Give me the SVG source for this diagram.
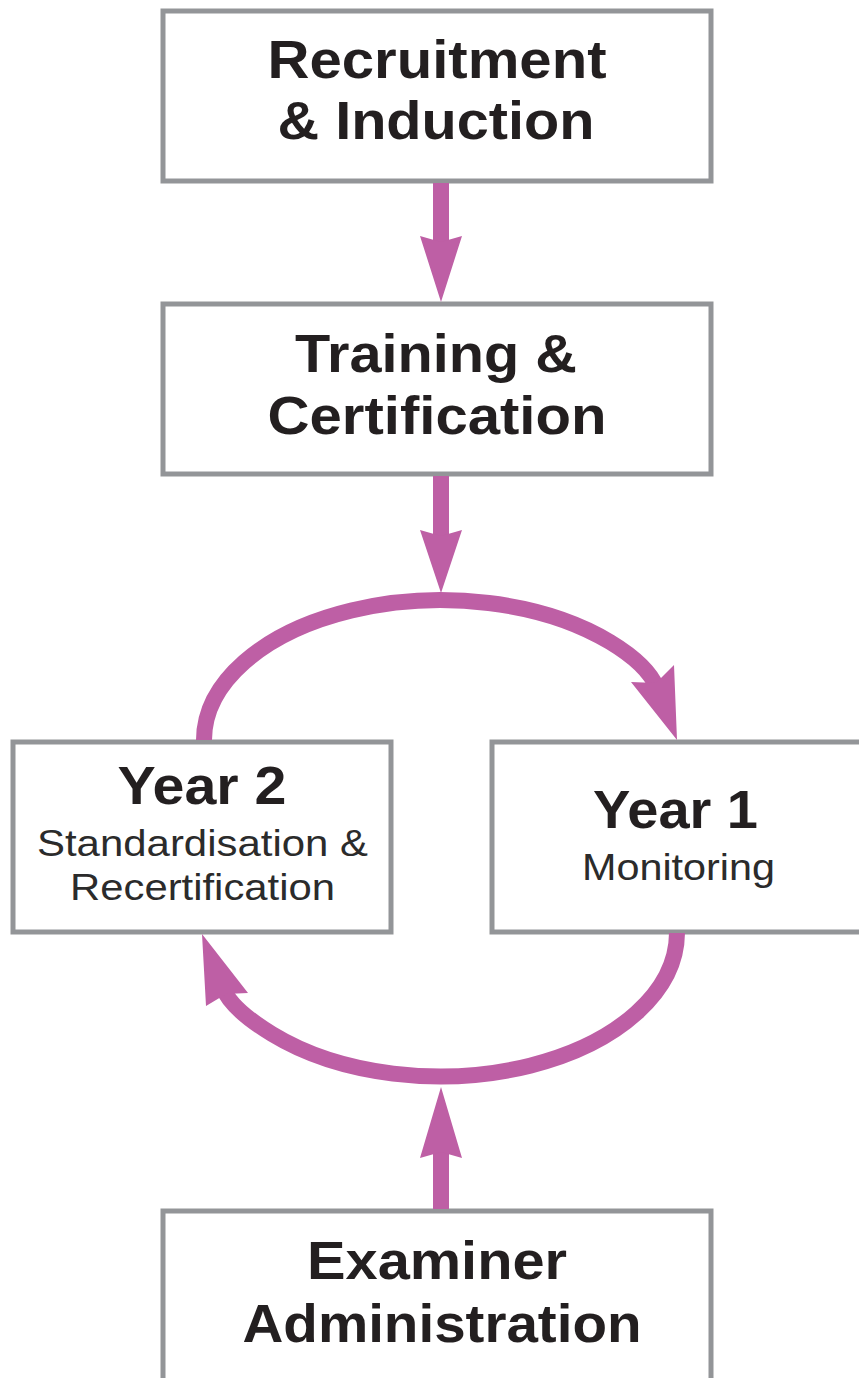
<svg xmlns="http://www.w3.org/2000/svg" width="859" height="1378" viewBox="0 0 859 1378">
  <defs>
    <style>
      .box { fill: #ffffff; stroke: #939598; stroke-width: 5; }
      .head { font-family: "Liberation Sans", Arial, Helvetica, sans-serif; font-weight: bold; font-size: 53px; fill: #231f20; text-anchor: middle; }
      .sub { font-family: "Liberation Sans", Arial, Helvetica, sans-serif; font-size: 37px; fill: #2b2b2b; text-anchor: middle; }
      .shaft { fill: none; stroke: #be5fa5; stroke-width: 16; }
      .arc { fill: none; stroke: #be5fa5; stroke-width: 16; }
      .tip { fill: #be5fa5; stroke: none; }
    </style>
  </defs>
  <rect width="859" height="1378" fill="#ffffff"/>

  <!-- process steps -->
  <g id="recruitment">
    <rect class="box" x="163" y="11" width="548" height="170"/>
    <text class="head" x="437" y="78" textLength="339" lengthAdjust="spacingAndGlyphs">Recruitment</text>
    <text class="head" x="436" y="139" textLength="317" lengthAdjust="spacingAndGlyphs">&amp; Induction</text>
  </g>

  <g id="training">
    <rect class="box" x="163" y="304" width="548" height="170"/>
    <text class="head" x="436" y="372" textLength="282" lengthAdjust="spacingAndGlyphs">Training &amp;</text>
    <text class="head" x="437" y="434" textLength="339" lengthAdjust="spacingAndGlyphs">Certification</text>
  </g>

  <g id="year2">
    <rect class="box" x="13" y="742" width="378" height="190"/>
    <text class="head" x="202" y="804" font-size="52" textLength="169" lengthAdjust="spacingAndGlyphs">Year 2</text>
    <text class="sub" x="202.5" y="856" textLength="331" lengthAdjust="spacingAndGlyphs">Standardisation &amp;</text>
    <text class="sub" x="202.5" y="900" textLength="265" lengthAdjust="spacingAndGlyphs">Recertification</text>
  </g>

  <g id="year1">
    <rect class="box" x="492" y="742" width="372" height="190"/>
    <text class="head" x="675.5" y="828" font-size="52" textLength="165" lengthAdjust="spacingAndGlyphs">Year 1</text>
    <text class="sub" x="678.5" y="880" textLength="193" lengthAdjust="spacingAndGlyphs">Monitoring</text>
  </g>

  <g id="administration">
    <rect class="box" x="163" y="1211" width="548" height="180"/>
    <text class="head" x="437" y="1279" textLength="260" lengthAdjust="spacingAndGlyphs">Examiner</text>
    <text class="head" x="442" y="1342" textLength="399" lengthAdjust="spacingAndGlyphs">Administration</text>
  </g>

  <!-- connectors -->
  <g id="connectors">
    <!-- Recruitment to Training -->
    <line class="shaft" x1="441" y1="183" x2="441" y2="244"/>
    <polygon class="tip" points="420,236 441,242 462,236 441,302"/>

    <!-- Training into the yearly cycle -->
    <line class="shaft" x1="441" y1="476" x2="441" y2="538"/>
    <polygon class="tip" points="420,530 441,536 462,530 441,593"/>

    <!-- Year 2 over the top to Year 1 -->
    <path class="arc" d="M 204 740 A 237 140 0 0 1 610 642 Q 648 665 657 688"/>
    <polygon class="tip" points="631,682 656,683 674,665 677,740"/>

    <!-- Year 1 under the bottom to Year 2 -->
    <path class="arc" d="M 677 933 A 237 144 0 0 1 272 1034 Q 231 1009 223 988"/>
    <polygon class="tip" points="248,993 226,994 206,1006 202,934"/>

    <!-- Administration feeding the cycle -->
    <line class="shaft" x1="441" y1="1209" x2="441" y2="1150"/>
    <polygon class="tip" points="420,1158 441,1152 462,1158 441,1087"/>
  </g>
</svg>
